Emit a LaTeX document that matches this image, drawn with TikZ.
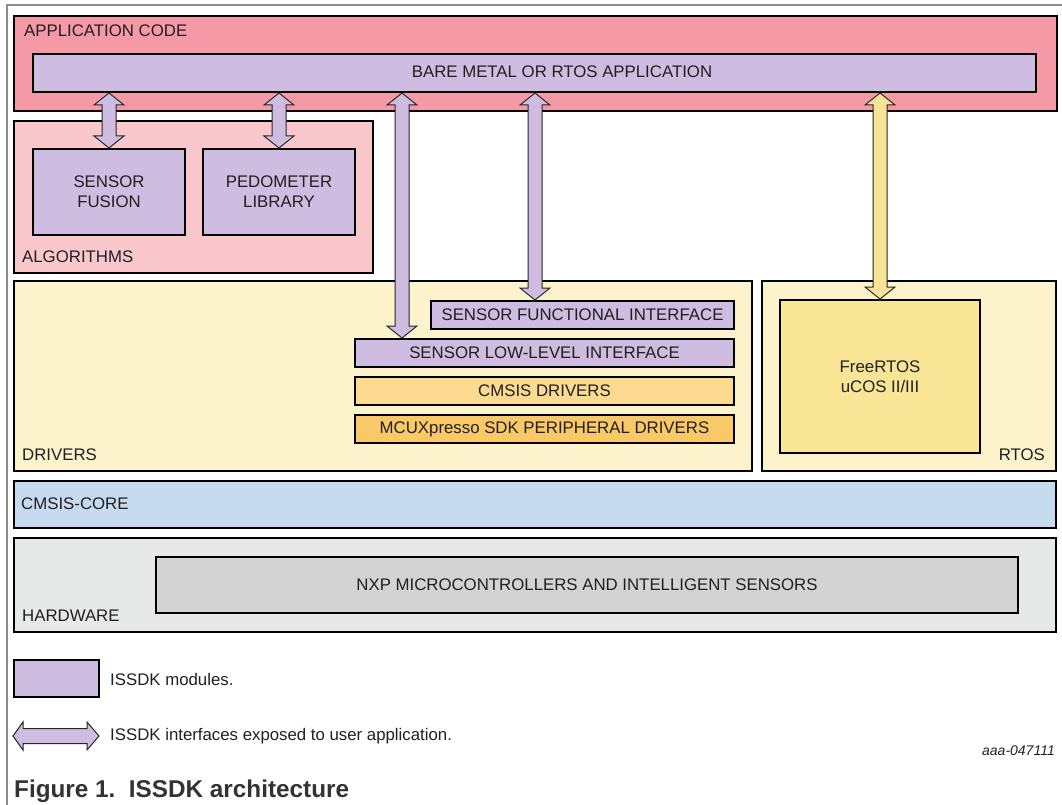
\documentclass[tikz,border=0pt]{standalone}
\usepackage{fontspec}
\setmainfont{Liberation Sans}
\usetikzlibrary{calc}
\definecolor{appred}{HTML}{F599A6}
\definecolor{lav}{HTML}{CEBDE0}
\definecolor{algpink}{HTML}{FAC8CC}
\definecolor{drvcream}{HTML}{FCF2CB}
\definecolor{rtosyel}{HTML}{F9E596}
\definecolor{arryel}{HTML}{F8E497}
\definecolor{cmsisorg}{HTML}{FCDA8F}
\definecolor{mcuxorg}{HTML}{F9C967}
\definecolor{coreblue}{HTML}{C6DAF0}
\definecolor{hwgray}{HTML}{E7E8E8}
\definecolor{nxpgray}{HTML}{D3D3D3}
\definecolor{txt}{HTML}{231F20}
\definecolor{framegray}{HTML}{8C8C8C}
\tikzset{
  box/.style={draw=black, line width=2pt, rectangle, inner sep=0pt, anchor=north west,
    align=center, text=txt, font=\fontsize{16.8}{20}\selectfont},
  lbl/.style={inner sep=0pt, text=txt, font=\fontsize{16.8}{20}\selectfont},
  blk/.style={draw=black!85, line width=1pt, line join=miter, fill=#1},
}
% vertical double block arrow from top tip #2 to bottom tip #3
\newcommand{\dblarrow}[3]{%
  \draw[#1] (#2) -- ++(15,12) -- ++(-8,0) -- ($(#3)+(7,-12)$) -- ++(8,0) -- (#3)
    -- ++(-15,-12) -- ++(8,0) -- ($(#2)+(-7,12)$) -- ++(-8,0) -- cycle;}
\begin{document}
\begin{tikzpicture}[x=1pt,y=-1pt]
  \useasboundingbox (0,0) rectangle (1062,805);
  \draw[framegray, line width=1.2pt] (7,805) -- (7,5) -- (1062,5);

  \node[box, fill=appred, minimum width=1043, minimum height=95] (app) at (13,15) {};
  \node[box, fill=lav, minimum width=1003, minimum height=38] (bar) at (32,53) {};
  \node[lbl, anchor=west] at (24,31) {APPLICATION CODE};
  \node[lbl] at (562,72) {BARE METAL OR RTOS APPLICATION};

  \node[box, fill=algpink, minimum width=359, minimum height=152] (algo) at (13,120) {};
  \node[box, fill=lav, minimum width=152, minimum height=86] (fusion) at (32,148) {SENSOR\\FUSION};
  \node[box, fill=lav, minimum width=152, minimum height=86] (pedo) at (202,148) {PEDOMETER\\LIBRARY};
  \node[lbl, anchor=west] at (22,257) {ALGORITHMS};

  \node[box, fill=drvcream, minimum width=738, minimum height=190] (drivers) at (13,280) {};
  \node[box, fill=lav, minimum width=303, minimum height=28] (functional) at (430,300) {SENSOR FUNCTIONAL INTERFACE};
  \node[box, fill=lav, minimum width=379, minimum height=28] (lowlevel) at (354,338) {SENSOR LOW-LEVEL INTERFACE};
  \node[box, fill=cmsisorg, minimum width=379, minimum height=28] (cmsisdrv) at (354,376) {CMSIS DRIVERS};
  \node[box, fill=mcuxorg, minimum width=379, minimum height=28] (mcux) at (354,414) {MCUXpresso SDK PERIPHERAL DRIVERS};
  \node[lbl, anchor=west] at (22,455) {DRIVERS};

  \node[box, fill=drvcream, minimum width=294, minimum height=190] (rtos) at (761,280) {};
  \node[box, fill=rtosyel, minimum width=200, minimum height=153] (freertos) at (779,299) {FreeRTOS\\uCOS II/III};
  \node[lbl, anchor=east] at (1045,455) {RTOS};

  \node[box, fill=coreblue, minimum width=1042, minimum height=47] (core) at (13,480) {};
  \node[lbl, anchor=west] at (21,504) {CMSIS-CORE};

  \node[box, fill=hwgray, minimum width=1042, minimum height=94] (hw) at (13,537) {};
  \node[box, fill=nxpgray, minimum width=862, minimum height=56] (nxp) at (155,556) {NXP MICROCONTROLLERS AND INTELLIGENT SENSORS};
  \node[lbl, anchor=west] at (22,616) {HARDWARE};

  \coordinate (a3) at (402,0);
  \coordinate (a4) at (535,0);
  \dblarrow{blk=lav}{bar.south -| fusion.north}{fusion.north}
  \dblarrow{blk=lav}{bar.south -| pedo.north}{pedo.north}
  \dblarrow{blk=lav}{bar.south -| a3}{lowlevel.north -| a3}
  \dblarrow{blk=lav}{bar.south -| a4}{functional.north -| a4}
  \dblarrow{blk=arryel}{bar.south -| freertos.north}{freertos.north}

  \node[box, fill=lav, minimum width=85, minimum height=37] (legbox) at (13,659) {};
  \node[lbl, anchor=west] at (110,679) {ISSDK modules.};
  \coordinate (la) at (13,736);
  \coordinate (ra) at (99,736);
  \draw[blk=lav] (la) -- ++(10,-14) -- ++(0,6.5) -- ($(ra)+(-12,-7.5)$) -- ++(0,-6.5) -- (ra)
    -- ++(-12,14) -- ++(0,-6.5) -- ($(la)+(10,7.5)$) -- ++(0,6.5) -- cycle;
  \node[lbl, anchor=west] at (110,736) {ISSDK interfaces exposed to user application.};
  \node[lbl, anchor=east, font=\fontsize{14}{17}\selectfont\itshape] at (1055,751) {aaa-047111};
  \node[lbl, anchor=west, text=black!80, font=\fontsize{24.3}{29}\selectfont\bfseries] at (14,791) {Figure 1.\ \ ISSDK architecture};
\end{tikzpicture}
\end{document}
